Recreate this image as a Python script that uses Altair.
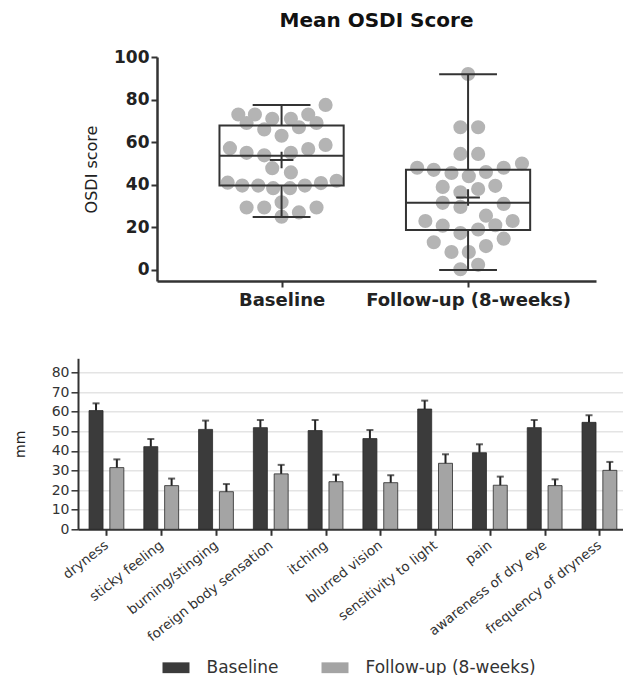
import json
import altair as alt
import pandas as pd

# ---------------- top panel data (OSDI scores) ----------------
groups = ["Baseline", "Follow-up (8-weeks)"]
group_pos = [1, 2]

baseline_scores = [73, 73, 69, 71, 71, 73, 69, 77.5, 66, 67, 63, 57.2, 55, 53.8, 55, 56.8, 58.7,
                   47.8, 45.8, 41, 39.6, 39.6, 38.4, 38.4, 39.6, 40.8, 41.9, 31.8, 29.3, 29.3, 27, 29.3, 25]
baseline_jitter = [-0.232, -0.143, -0.1875, -0.05, 0.05, 0.143, 0.1875, 0.236, -0.093, 0.093, 0,
                   -0.277, -0.1875, -0.093, 0.05, 0.143, 0.236, -0.05, 0.05, -0.289, -0.211, -0.125,
                   -0.045, 0.045, 0.125, 0.211, 0.295, 0, -0.1875, -0.093, 0.093, 0.1875, 0]
followup_scores = [92, 67, 67, 54.5, 54.5, 48, 47, 45.5, 44, 46, 48, 50, 39, 36.5, 38, 39.5, 31.5,
                   29.6, 31, 25.5, 23, 20.8, 17.3, 19, 21, 23, 13, 8.4, 8.4, 11.2, 14.7, 0.3, 2.4]
followup_jitter = [0, -0.041, 0.054, -0.041, 0.054, -0.273, -0.184, -0.089, 0.004, 0.096, 0.191,
                   0.289, -0.136, -0.041, 0.054, 0.146, -0.136, -0.041, 0.191, 0.096, -0.229, -0.136,
                   -0.041, 0.054, 0.146, 0.239, -0.184, -0.089, 0.004, 0.096, 0.191, -0.041, 0.054]

box_min = [24.9, 0.0]
box_q1 = [39.7, 18.7]
box_median = [53.6, 31.5]
box_q3 = [67.8, 47.0]
box_max = [77.4, 91.9]
box_mean = [51.6, 34.0]

# ---------------- bottom panel data (symptom VAS, mm) ----------------
symptoms = ["dryness", "sticky feeling", "burning/stinging", "foreign body sensation", "itching",
            "blurred vision", "sensitivity to light", "pain", "awareness of dry eye",
            "frequency of dryness"]
series = ["Baseline", "Follow-up (8-weeks)"]
baseline_mm = [60.6, 42.2, 51.0, 51.9, 50.4, 46.3, 61.4, 39.1, 51.9, 54.6]
baseline_sem = [3.7, 3.9, 4.5, 3.9, 5.4, 4.4, 4.3, 4.3, 3.9, 3.6]
followup_mm = [31.5, 22.3, 19.2, 28.3, 24.3, 23.8, 33.7, 22.5, 22.3, 30.1]
followup_sem = [4.2, 3.6, 3.9, 4.6, 3.6, 3.8, 4.6, 4.4, 3.2, 4.3]

FONT = "DejaVu Sans"
LINE = "#333333"
NOVIEW = alt.ViewBackground(stroke="transparent", strokeWidth=0)

# ---------------- tables ----------------
pts = pd.DataFrame({
    "pos": [group_pos[0]] * len(baseline_scores) + [group_pos[1]] * len(followup_scores),
    "jit": baseline_jitter + followup_jitter,
    "score": baseline_scores + followup_scores,
})
stats = pd.DataFrame({"pos": group_pos, "mn": box_min, "q1": box_q1, "med": box_median,
                      "q3": box_q3, "mx": box_max, "mean": box_mean})

xscale_top = alt.Scale(domain=[0.332, 2.686], nice=False, zero=False)
yscale_top = alt.Scale(domain=[-5.2, 100], nice=False, zero=False)
xaxis_top = alt.Axis(values=group_pos, labelExpr=f"{json.dumps(groups)}[datum.value - 1]",
                     title=None, grid=False, labelFont=FONT, labelFontSize=18,
                     labelFontWeight="bold", labelColor="#222", labelPadding=4, labelLimit=0,
                     tickSize=6, tickWidth=2, tickColor=LINE, domainColor=LINE,
                     domainWidth=2.5, labelFlush=False)
yaxis_top = alt.Axis(values=[0, 20, 40, 60, 80, 100], title="OSDI score", grid=False,
                     titleFont=FONT, titleFontSize=16, titleFontWeight="normal",
                     titleColor="#222", titlePadding=14, labelFont=FONT, labelFontSize=17,
                     labelFontWeight="bold", labelColor="#222", labelPadding=2, tickSize=6,
                     tickWidth=2, tickColor=LINE, domainColor=LINE, domainWidth=2.5,
                     labelOverlap=False)


def tx(field):
    return alt.X(field, scale=xscale_top, axis=xaxis_top)


def ty(field):
    return alt.Y(field, scale=yscale_top, axis=yaxis_top)


box_base = alt.Chart(stats).transform_calculate(
    left="datum.pos - 0.333", right="datum.pos + 0.333",
    cl="datum.pos - 0.155", cr="datum.pos + 0.155")

points = alt.Chart(pts).transform_calculate(xp="datum.pos + datum.jit").mark_circle(
    size=200, color="#b4b4b4", opacity=1).encode(x=tx("xp:Q"), y=ty("score:Q"))

box = box_base.mark_rect(fill="transparent", stroke=LINE, strokeWidth=2).encode(
    x=tx("left:Q"), x2="right:Q", y=ty("q1:Q"), y2="q3:Q")
median = box_base.mark_rule(color=LINE, strokeWidth=2).encode(
    x=tx("left:Q"), x2="right:Q", y=ty("med:Q"))
wlow = box_base.mark_rule(color=LINE, strokeWidth=2).encode(x=tx("pos:Q"), y=ty("mn:Q"), y2="q1:Q")
whigh = box_base.mark_rule(color=LINE, strokeWidth=2).encode(x=tx("pos:Q"), y=ty("q3:Q"), y2="mx:Q")
caplow = box_base.mark_rule(color=LINE, strokeWidth=2).encode(x=tx("cl:Q"), x2="cr:Q", y=ty("mn:Q"))
caphigh = box_base.mark_rule(color=LINE, strokeWidth=2).encode(x=tx("cl:Q"), x2="cr:Q", y=ty("mx:Q"))
meanplus = box_base.mark_point(shape="M-1,0L1,0M0,-0.7L0,0.7", size=560, filled=False,
                               stroke=LINE, strokeWidth=2, opacity=1).encode(
    x=tx("pos:Q"), y=ty("mean:Q"))

top = alt.layer(points, box, median, wlow, whigh, caplow, caphigh, meanplus).properties(
    width=439, height=224, view=NOVIEW,
    title=alt.Title("Mean OSDI Score", font=FONT, fontSize=20, fontWeight="bold",
                    color="#111", anchor="middle", frame="group", offset=17))

spacer = alt.Chart(pd.DataFrame({"s": [0]})).mark_point(opacity=0).properties(
    width=78.5, height=10, view=NOVIEW)

# ---------------- bottom chart ----------------
rows = []
for i, s in enumerate(symptoms):
    rows.append({"symptom": s, "idx": i, "series": series[0], "val": baseline_mm[i], "sem": baseline_sem[i]})
    rows.append({"symptom": s, "idx": i, "series": series[1], "val": followup_mm[i], "sem": followup_sem[i]})
bars_df = pd.DataFrame(rows)

xscale_bot = alt.Scale(domain=[-0.428, 9.33], nice=False, zero=False)
yscale_bot = alt.Scale(domain=[0, 87.3], nice=False)
xaxis_bot = alt.Axis(values=list(range(len(symptoms))),
                     labelExpr=f"{json.dumps(symptoms)}[datum.value]", title=None, grid=False,
                     labelAngle=-38, labelAlign="right", labelBaseline="middle",
                     labelFont=FONT, labelFontSize=13.5, labelColor="#333", labelPadding=8,
                     labelLimit=0, tickSize=6, tickWidth=2, tickColor=LINE, domainColor=LINE,
                     domainWidth=2, labelFlush=False, labelOverlap=False)
yaxis_bot = alt.Axis(values=list(range(0, 81, 10)), title="mm", grid=True, gridColor="#e4e4e4",
                     gridWidth=1.5, titleFont=FONT, titleFontSize=14, titleFontWeight="normal",
                     titleColor="#222", titlePadding=23.7, labelFont=FONT, labelFontSize=14,
                     labelColor="#333", labelPadding=2, tickSize=7, tickWidth=1.5,
                     tickColor=LINE, domainColor=LINE, domainWidth=2, labelOverlap=False)


def bx(field):
    return alt.X(field, scale=xscale_bot, axis=xaxis_bot)


def by(field):
    return alt.Y(field, scale=yscale_bot, axis=yaxis_bot)


bbase = alt.Chart(bars_df).transform_calculate(
    xp=f"datum.idx + (datum.series == {json.dumps(series[0])} ? -0.19 : 0.19)",
    up="datum.val + datum.sem")

bars = bbase.mark_bar(size=14, stroke="#2a2a2a", strokeWidth=0.8).encode(
    x=bx("xp:Q"), y=by("val:Q"),
    color=alt.Color("series:N", scale=alt.Scale(domain=series, range=["#3b3b3b", "#a4a4a4"]),
                    legend=alt.Legend(title=None, orient="none", legendX=84.5, legendY=597,
                                      direction="horizontal",
                                      symbolType="M-1,-0.4L1,-0.4L1,0.4L-1,0.4Z",
                                      symbolSize=729, symbolStrokeWidth=0, labelLimit=0,
                                      labelFont=FONT, labelFontSize=17, labelColor="#333",
                                      labelOffset=17, columnPadding=42)))
err = bbase.mark_rule(color="#222", strokeWidth=2).encode(x=bx("xp:Q"), y=by("val:Q"), y2="up:Q")
cap = bbase.mark_tick(orient="horizontal", color="#222", size=7, thickness=2).encode(
    x=bx("xp:Q"), y=by("up:Q"))

bottom = alt.layer(bars, err, cap).properties(width=544.5, height=171, view=NOVIEW)

chart = alt.vconcat(
    alt.hconcat(spacer, top, spacing=0, bounds="flush"),
    bottom,
    spacing=301.3,
    bounds="flush",
).properties(
    padding={"left": 5, "top": 3, "right": 0, "bottom": 0}
).configure_view(stroke="transparent", strokeWidth=0).configure(font=FONT)

chart.save("out.html", embed_options={"renderer": "svg", "actions": False})
